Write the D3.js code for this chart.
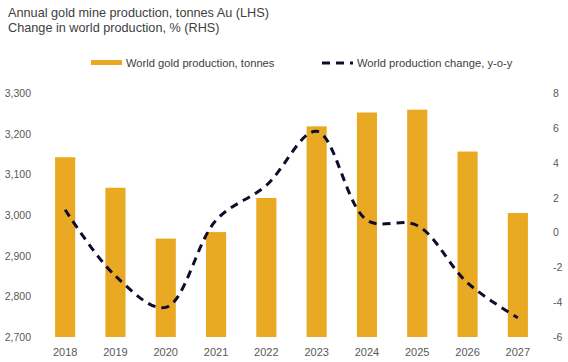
<!DOCTYPE html>
<html>
<head>
<meta charset="utf-8">
<script src="https://cdn.jsdelivr.net/npm/d3@7"></script>
<style>
  body { margin: 0; background: #fff; }
  svg text { font-family: "Liberation Sans", Arial, sans-serif; }
</style>
</head>
<body>
<svg id="chart" width="568" height="362"></svg>
<script>
const years = ["2018", "2019", "2020", "2021", "2022", "2023", "2024", "2025", "2026", "2027"];
const production = [3142, 3067, 2942, 2958, 3042, 3218, 3252, 3259, 3156, 3005];
const change = [1.3, -2.5, -4.3, 0.7, 2.7, 5.8, 0.7, 0.4, -2.9, -4.9];
const leftTicks = [2700, 2800, 2900, 3000, 3100, 3200, 3300];
const rightTicks = [-6, -4, -2, 0, 2, 4, 6, 8];

const svg = d3.select("#chart");
const plotTop = 93, plotBottom = 337;

const x = d3.scaleBand().domain(years).range([40, 543]).paddingInner(0.6).paddingOuter(0.3);
const yL = d3.scaleLinear().domain([2700, 3300]).range([plotBottom, plotTop]);
const yR = d3.scaleLinear().domain([-6, 8]).range([plotBottom, plotTop]);

// titles
svg.append("text").attr("x", 8).attr("y", 17).attr("font-size", 12.7).attr("fill", "#404040")
  .text("Annual gold mine production, tonnes Au (LHS)");
svg.append("text").attr("x", 8).attr("y", 32).attr("font-size", 12.7).attr("fill", "#404040")
  .text("Change in world production, % (RHS)");

// legend
svg.append("rect").attr("x", 91).attr("y", 60).attr("width", 31).attr("height", 5).attr("fill", "#E9A922");
svg.append("text").attr("x", 126).attr("y", 67).attr("font-size", 11.2).attr("fill", "#404040")
  .text("World gold production, tonnes");
svg.append("line").attr("x1", 322).attr("x2", 353).attr("y1", 63).attr("y2", 63)
  .attr("stroke", "#0e0e2c").attr("stroke-width", 3).attr("stroke-dasharray", "8,6");
svg.append("text").attr("x", 357).attr("y", 67).attr("font-size", 11.2).attr("fill", "#404040")
  .text("World production change, y-o-y");

// left axis
svg.append("g").selectAll("text").data(leftTicks).join("text")
  .attr("x", 31).attr("y", d => yL(d) + 4).attr("text-anchor", "end")
  .attr("font-size", 10.5).attr("fill", "#595959")
  .text(d => d3.format(",")(d));

// right axis
svg.append("g").selectAll("text").data(rightTicks).join("text")
  .attr("x", 553).attr("y", d => yR(d) + 4).attr("text-anchor", "start")
  .attr("font-size", 10.5).attr("fill", "#595959")
  .text(d => String(d));

// bars
svg.append("g").selectAll("rect").data(years).join("rect")
  .attr("x", d => x(d)).attr("width", x.bandwidth())
  .attr("y", (d, i) => yL(production[i]))
  .attr("height", (d, i) => plotBottom - yL(production[i]))
  .attr("fill", "#E9A922");

// x labels
svg.append("g").selectAll("text").data(years).join("text")
  .attr("x", d => x(d) + x.bandwidth() / 2).attr("y", 356).attr("text-anchor", "middle")
  .attr("font-size", 11).attr("fill", "#595959")
  .text(d => d);

// line
const line = d3.line()
  .x((d, i) => x(years[i]) + x.bandwidth() / 2)
  .y(d => yR(d))
  .curve(d3.curveCatmullRom.alpha(0.5));

svg.append("path").datum(change)
  .attr("d", line).attr("fill", "none")
  .attr("stroke", "#0e0e2c").attr("stroke-width", 3)
  .attr("stroke-dasharray", "8,6");
</script>
</body>
</html>
